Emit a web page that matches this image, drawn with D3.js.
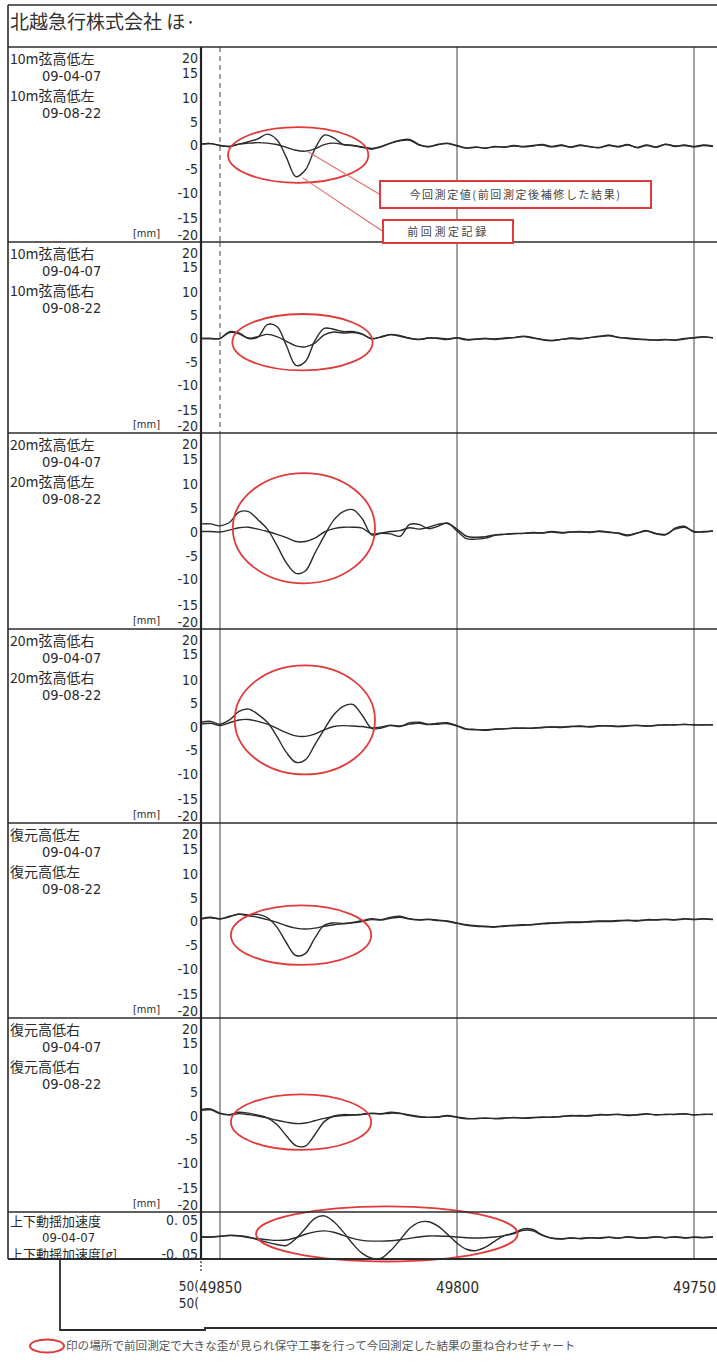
<!DOCTYPE html>
<html>
<head>
<meta charset="utf-8">
<script src="https://cdn.jsdelivr.net/npm/d3@7"></script>
<style>
  body { margin: 0; background: #fff; }
  svg { display: block; }
  .num { font-family: "DejaVu Sans Condensed", "DejaVu Sans", sans-serif; font-stretch: condensed; }
  .jp { font-family: "Noto Sans CJK JP", sans-serif; }
</style>
</head>
<body>
<svg id="chart" width="717" height="1363"></svg>
<script>
// kilometrage of the samples (m), read every 2 m
const km = [49854, 49852, 49850, 49848, 49846, 49844, 49842, 49840, 49838, 49836,
            49834, 49832, 49830, 49828, 49826, 49824, 49822, 49820, 49818, 49816,
            49814, 49812, 49810, 49808, 49806, 49804, 49802, 49800, 49798, 49796,
            49794, 49792, 49790, 49788, 49786, 49784, 49782, 49780, 49778, 49776,
            49774, 49772, 49770, 49768, 49766, 49764, 49762, 49760, 49758, 49756,
            49754, 49752, 49750, 49748, 49746];

// 09-04-07 (previous) and 09-08-22 (current) records, mm
const prev10L = [0.3, 0.4, 0.0, -0.2, 0.3, 0.8, 1.4, 2.4, 1.2, -2.5,
                 -6.6, -5.2, -0.8, 2.2, 1.6, 0.2, 0.0, -0.4, -0.8, -0.3,
                 0.5, 1.1, 1.3, 0.2, -0.3, 0.2, 0.5, 0.0, -0.5, -0.3,
                 -0.6, -0.2, -0.4, 0.0, -0.3, -0.1, 0.2, -0.2, 0.1, -0.4,
                 0.0, -0.2, -0.5, 0.1, -0.3, 0.2, -0.5, 0.0, -0.4, 0.3,
                 -0.2, 0.1, -0.3, 0.0, -0.2];
const curr10L = [0.3, 0.4, 0.0, -0.2, 0.3, 0.5, 0.6, 0.5, 0.2, -0.4,
                 -1.0, -1.2, -0.7, 0.2, 0.5, 0.2, 0.0, -0.3, -0.6, -0.2,
                 0.5, 1.0, 1.1, 0.1, -0.2, 0.2, 0.4, -0.1, -0.6, -0.4,
                 -0.5, -0.3, -0.3, -0.1, -0.2, 0.0, 0.1, -0.3, 0.0, -0.3,
                 0.1, -0.3, -0.4, 0.0, -0.2, 0.1, -0.4, 0.1, -0.3, 0.2,
                 -0.1, 0.0, -0.2, 0.1, -0.1];
const prev10R = [0.0, 0.0, 0.0, 1.5, 1.2, 0.0, 0.3, 3.0, 2.6, -1.5,
                 -5.8, -5.0, -0.5, 2.2, 2.0, 1.5, 1.5, 1.0, -0.1, 0.4,
                 0.9, 0.6, 0.1, -0.2, 0.1, 0.0, -0.2, 0.2, -0.2, -0.1,
                 0.0, -0.2, 0.0, 0.2, 0.5, 0.2, -0.3, -0.5, -0.2, 0.0,
                 -0.1, 0.2, 0.5, 0.7, 0.3, 0.0, -0.2, -0.3, -0.3, -0.2,
                 -0.4, -0.1, 0.2, 0.4, 0.1];
const curr10R = [0.0, 0.0, 0.0, 1.3, 1.0, 0.1, 0.4, 0.9, 0.4, -0.6,
                 -1.6, -1.8, -1.0, 0.8, 1.4, 1.2, 1.3, 0.9, 0.0, 0.3,
                 0.8, 0.5, 0.0, -0.2, 0.1, 0.1, -0.1, 0.1, -0.3, -0.2,
                 0.0, -0.1, 0.1, 0.2, 0.4, 0.1, -0.2, -0.4, -0.2, 0.1,
                 0.0, 0.2, 0.4, 0.6, 0.2, 0.1, -0.1, -0.2, -0.4, -0.3,
                 -0.3, 0.0, 0.1, 0.3, 0.2];
const prev20L = [1.7, 1.7, 1.3, 2.0, 4.2, 4.3, 2.6, 0.6, -2.8, -6.5,
                 -8.7, -8.2, -4.5, -0.8, 2.5, 4.3, 4.7, 2.8, -0.6, -0.3,
                 -0.4, -0.9, 1.6, 1.6, 0.7, 1.2, 1.9, 0.2, -1.4, -1.5,
                 -1.3, -0.7, -0.5, -0.4, -0.3, -0.2, -0.2, 0.0, -0.2, 0.0,
                 0.1, -0.1, 0.2, 0.0, -0.3, -0.8, -0.3, 0.2, -0.4, -0.6,
                 0.8, 1.2, 0.0, 0.1, 0.2];
const curr20L = [0.1, 0.1, 0.0, 0.4, 0.9, 1.0, 0.6, 0.1, -0.5, -1.2,
                 -2.0, -2.0, -1.3, 0.0, 0.7, 1.0, 1.0, 0.8, -0.4, -0.2,
                 0.1, 0.3, 0.9, 0.6, 1.0, 1.6, 1.8, 0.6, -0.9, -1.1,
                 -1.0, -0.6, -0.5, -0.3, -0.3, -0.1, -0.2, 0.1, -0.1, 0.0,
                 0.0, 0.0, 0.1, -0.1, -0.2, -0.6, -0.2, 0.3, -0.3, -0.5,
                 0.6, 1.0, 0.1, 0.0, 0.2];
const prev20R = [1.0, 1.2, 0.6, 1.5, 3.3, 3.8, 2.7, 1.0, -2.0, -5.4,
                 -7.5, -7.0, -3.8, -0.5, 2.6, 4.4, 4.8, 2.5, -0.3, -0.2,
                 0.3, 0.1, 0.9, 1.0, 0.6, 0.8, 0.9, 0.3, -0.4, -0.5,
                 -0.7, -0.5, -0.4, -0.3, -0.2, -0.3, -0.1, 0.0, -0.1, 0.1,
                 0.2, 0.0, 0.2, 0.3, 0.1, 0.2, 0.4, 0.2, 0.3, 0.5,
                 0.4, 0.6, 0.4, 0.5, 0.4];
const curr20R = [0.6, 0.8, 0.3, 0.9, 1.5, 1.6, 1.2, 0.6, -0.3, -1.2,
                 -1.9, -2.0, -1.5, -0.6, 0.1, 0.3, 0.2, 0.1, -0.2, 0.0,
                 0.4, 0.2, 0.6, 0.8, 0.5, 0.6, 0.7, 0.2, -0.5, -0.6,
                 -0.6, -0.4, -0.4, -0.2, -0.3, -0.2, -0.1, 0.0, 0.0, 0.1,
                 0.1, 0.1, 0.3, 0.2, 0.1, 0.3, 0.3, 0.2, 0.4, 0.4,
                 0.5, 0.5, 0.5, 0.4, 0.5];
const prevRecL = [0.5, 0.8, 0.5, 1.0, 1.6, 1.4, 1.5, 0.8, -1.2, -4.5,
                  -7.2, -6.8, -3.5, -0.8, -0.3, -0.4, -0.2, 0.2, 0.6, 0.4,
                  0.9, 1.1, 0.6, 0.4, 0.5, 0.3, 0.1, -0.3, -0.7, -0.9,
                  -1.0, -1.1, -0.9, -0.8, -0.7, -0.6, -0.4, -0.3, -0.2, -0.1,
                  -0.1, 0.0, 0.1, 0.1, 0.2, 0.3, 0.2, 0.4, 0.4, 0.5,
                  0.4, 0.6, 0.5, 0.6, 0.5];
const currRecL = [0.6, 0.9, 0.6, 1.1, 1.5, 1.2, 0.9, 0.4, -0.2, -0.9,
                  -1.4, -1.6, -1.4, -1.0, -0.7, -0.5, -0.3, 0.0, 0.4, 0.3,
                  0.7, 0.9, 0.5, 0.3, 0.4, 0.2, 0.0, -0.4, -0.8, -1.0,
                  -1.1, -1.2, -1.0, -0.9, -0.8, -0.7, -0.5, -0.4, -0.3, -0.2,
                  -0.2, -0.1, 0.0, 0.0, 0.1, 0.2, 0.1, 0.3, 0.3, 0.4,
                  0.3, 0.5, 0.4, 0.5, 0.4];
const prevRecR = [1.4, 1.5, 0.6, 0.3, 0.8, 0.6, 0.2, -0.4, -1.8, -4.2,
                  -6.3, -6.4, -4.0, -1.2, 0.0, 0.3, 0.2, 0.4, 0.6, 0.5,
                  0.8, 0.6, 0.2, -0.1, -0.3, -0.2, 0.1, -0.2, -0.5, -0.6,
                  -0.4, -0.6, -0.5, -0.3, -0.5, -0.4, -0.2, -0.3, -0.1, 0.0,
                  0.1, 0.0, 0.3, 0.2, 0.4, 0.1, 0.3, 0.5, 0.2, 0.4,
                  0.3, 0.5, 0.2, 0.4, 0.3];
const currRecR = [1.2, 1.3, 0.5, 0.2, 0.5, 0.3, 0.0, -0.4, -0.9, -1.3,
                  -1.6, -1.5, -1.0, -0.5, -0.1, 0.1, 0.2, 0.3, 0.5, 0.4,
                  0.6, 0.5, 0.1, -0.2, -0.3, -0.2, 0.0, -0.3, -0.6, -0.5,
                  -0.5, -0.5, -0.4, -0.4, -0.4, -0.3, -0.3, -0.2, -0.1, 0.1,
                  0.0, 0.1, 0.2, 0.3, 0.3, 0.2, 0.2, 0.4, 0.3, 0.3,
                  0.4, 0.4, 0.3, 0.3, 0.4];
// vertical acceleration, g
const prevAcc = [0.0, 0.0, 0.002, 0.005, 0.004, 0.0, -0.008, -0.016, -0.022, -0.025,
                 -0.005, 0.025, 0.055, 0.062, 0.045, 0.015, -0.02, -0.048, -0.062, -0.062,
                 -0.04, -0.008, 0.025, 0.043, 0.045, 0.032, 0.008, -0.018, -0.036, -0.04,
                 -0.03, -0.012, 0.004, 0.012, 0.024, 0.022, 0.006, -0.004, -0.006, -0.003,
                 -0.005, -0.002, -0.004, -0.001, -0.004, 0.0, -0.003, -0.002, 0.001, -0.002,
                 0.0, -0.003, -0.001, -0.002, 0.0];
const currAcc = [0.0, 0.0, 0.002, 0.004, 0.003, -0.002, -0.005, -0.008, -0.01, -0.009,
                 -0.002, 0.008, 0.015, 0.018, 0.014, 0.005, -0.004, -0.01, -0.012, -0.012,
                 -0.011, -0.008, -0.004, 0.0, 0.003, 0.003, 0.002, 0.0, -0.002, -0.003,
                 -0.002, 0.0, 0.004, 0.01, 0.02, 0.018, 0.005, -0.003, -0.005, -0.003,
                 -0.004, -0.002, -0.003, 0.0, -0.003, 0.001, -0.002, -0.003, 0.0, -0.002,
                 0.001, -0.002, 0.0, -0.001, 0.0];

const panelNames = ["10m弦高低左", "10m弦高低右", "20m弦高低左", "20m弦高低右", "復元高低左", "復元高低右"];
const prevSeries = [prev10L, prev10R, prev20L, prev20R, prevRecL, prevRecR];
const currSeries = [curr10L, curr10R, curr20L, curr20R, currRecL, currRecR];
const dates = ["09-04-07", "09-08-22"];
const mmTicks = [20, 15, 10, 5, 0, -5, -10, -15, -20];
const accTicks = [0.05, 0, -0.05];
const accTickLabels = ["0. 05", "0", "-0. 05"];
const kmTicks = [49850, 49800, 49750];
const kmStartLabel = "50(";
const accName = "上下動揺加速度";
const title = "北越急行株式会社 ほ·";
const caption = "印の場所で前回測定で大きな歪が見られ保守工事を行って今回測定した結果の重ね合わせチャート";
const calloutTexts = ["今回測定値(前回測定後補修した結果)", "前回測定記録"];
// red ellipses: centre (km, value) and half sizes (km, value)
const marks = [
  {km: 49833.5, v: -2.0, dk: 14.8, dv: 5.9},
  {km: 49832.6, v: -0.8, dk: 14.8, dv: 6.1},
  {km: 49832.3, v: 0.8, dk: 15.0, dv: 11.6},
  {km: 49832.1, v: 1.5, dk: 14.8, dv: 11.6},
  {km: 49832.9, v: -2.9, dk: 14.8, dv: 6.3},
  {km: 49832.9, v: -1.3, dk: 14.8, dv: 5.9},
  {km: 49814.8, v: 0.009, dk: 27.6, dv: 0.081}
];

// ---- layout
const svg = d3.select("#chart");
const W = 717, frameL = 8, plotL = 201;
const tops = [47, 242, 433, 629, 823, 1018, 1212];
const accBottom = 1259;
const red = "#e03a3a", ink = "#2b2b2b";

const x = d3.scaleLinear().domain([49850, 49750]).range([220, 694]);

const defs = svg.append("defs");

// header
svg.append("text").attr("class", "jp")
  .attr("x", 10).attr("y", 29)
  .attr("font-size", 19).attr("fill", "#333")
  .text(title);

function drawPanel(i, top, bottom, y, prev, curr, labels, ticks, tickFmt, shift, nameSize, dateSize) {
  const g = svg.append("g");
  const clipId = "pclip" + i;
  defs.append("clipPath").attr("id", clipId)
    .append("rect").attr("x", plotL).attr("y", top).attr("width", W - plotL).attr("height", bottom - top);
  defs.append("clipPath").attr("id", "lclip" + i)
    .append("rect").attr("x", frameL).attr("y", top).attr("width", plotL - frameL).attr("height", bottom - top);

  // vertical grid
  g.selectAll("line.grid").data(kmTicks).enter().append("line")
    .attr("x1", d => x(d)).attr("x2", d => x(d))
    .attr("y1", top).attr("y2", bottom)
    .attr("stroke", "#444").attr("stroke-width", 1)
    .attr("stroke-dasharray", d => (i < 2 && d === 49850) ? "5,4" : null);

  // value axis
  const ax = g.append("g").attr("class", "num")
    .attr("transform", `translate(${plotL - 1},0)`)
    .call(d3.axisLeft(y).tickValues(ticks).tickSize(0).tickPadding(2).tickFormat(tickFmt));
  ax.select(".domain").remove();
  ax.selectAll("text").attr("font-size", 14).attr("fill", ink)
    .attr("y", d => shift[d] || 0);

  // curves
  const line = d3.line()
    .x((d, j) => x(km[j]))
    .y(d => y(d))
    .curve(d3.curveCatmullRom.alpha(0.5));
  const cg = g.append("g").attr("clip-path", `url(#${clipId})`);
  [prev, curr].forEach(s => {
    cg.append("path").datum(s)
      .attr("d", line)
      .attr("fill", "none")
      .attr("stroke", ink)
      .attr("stroke-width", 1.4);
  });

  // red mark
  const m = marks[i];
  g.append("ellipse")
    .attr("cx", x(m.km)).attr("cy", y(m.v))
    .attr("rx", x(m.km - m.dk) - x(m.km))
    .attr("ry", y(m.v - m.dv) - y(m.v))
    .attr("fill", "none").attr("stroke", red).attr("stroke-width", 1.8);

  // name column
  const lg = g.append("g").attr("clip-path", `url(#lclip${i})`).attr("fill", ink);
  labels.forEach(t => {
    lg.append("text")
      .attr("class", t.indent ? "num" : "jp")
      .attr("font-size", t.indent ? dateSize : nameSize)
      .attr("x", t.indent ? 42 : 10)
      .attr("y", top + t.dy)
      .text(t.text);
  });

  // separator
  svg.append("line").attr("x1", frameL).attr("x2", W)
    .attr("y1", top).attr("y2", top)
    .attr("stroke", ink).attr("stroke-width", 1.6);
}

const mmShift = {20: 7, 15: -2, "-15": 2, "-20": -5};

panelNames.forEach((name, i) => {
  const top = tops[i], bottom = tops[i + 1];
  const y = d3.scaleLinear().domain([-20, 20]).range([bottom - 2, top + 4]);
  const labels = [
    {text: name, dy: 17},
    {text: dates[0], dy: 34, indent: true},
    {text: name, dy: 54},
    {text: dates[1], dy: 71, indent: true}
  ];
  drawPanel(i, top, bottom, y, prevSeries[i], currSeries[i], labels, mmTicks, d => d, mmShift, 14, 14.5);
  svg.append("text").attr("class", "num")
    .attr("x", 133).attr("y", bottom - 5)
    .attr("font-size", 11).attr("fill", ink)
    .text("[mm]");
});

// acceleration panel
{
  const top = tops[6], bottom = accBottom;
  const y = d3.scaleLinear().domain([-0.05, 0.05]).range([1254, 1220]);
  const labels = [
    {text: accName, dy: 14},
    {text: dates[0], dy: 30, indent: true},
    {text: accName + "[g]", dy: 47}
  ];
  drawPanel(6, top, bottom, y, prevAcc, currAcc, labels, accTicks,
            (d, k) => accTickLabels[k], {}, 13, 13);
  svg.append("line").attr("x1", frameL).attr("x2", W)
    .attr("y1", bottom).attr("y2", bottom)
    .attr("stroke", ink).attr("stroke-width", 1.8);
}

// header top line, outer left frame, plot left line
svg.append("line").attr("x1", frameL).attr("x2", W).attr("y1", 5).attr("y2", 5)
  .attr("stroke", ink).attr("stroke-width", 1.6);
svg.append("line").attr("x1", frameL).attr("x2", frameL).attr("y1", 5).attr("y2", accBottom)
  .attr("stroke", ink).attr("stroke-width", 1.6);
svg.append("line").attr("x1", plotL).attr("x2", plotL).attr("y1", tops[0]).attr("y2", accBottom)
  .attr("stroke", "#222").attr("stroke-width", 2.2);

// callouts in the first panel
{
  const y1 = d3.scaleLinear().domain([-20, 20]).range([tops[1] - 2, tops[0] + 4]);
  const boxes = [
    {x: 380, y: 181, w: 271, h: 27, from: [49831.6, -1.2]},
    {x: 383, y: 220, w: 130, h: 23, from: [49832.6, -6.8]}
  ];
  boxes.forEach((b, k) => {
    svg.append("line")
      .attr("x1", x(b.from[0])).attr("y1", y1(b.from[1]))
      .attr("x2", b.x).attr("y2", b.y + b.h / 2)
      .attr("stroke", "#e46a6a").attr("stroke-width", 1.1);
    svg.append("rect")
      .attr("x", b.x).attr("y", b.y).attr("width", b.w).attr("height", b.h)
      .attr("fill", "#fff").attr("stroke", red).attr("stroke-width", 2);
    svg.append("text").attr("class", "jp")
      .attr("x", b.x + b.w / 2).attr("y", b.y + b.h / 2 + 4)
      .attr("text-anchor", "middle")
      .attr("font-size", 11).attr("letter-spacing", k === 0 ? 1.6 : 2.6)
      .attr("fill", "#444")
      .text(calloutTexts[k]);
  });
}

// distance axis below the chart
const xa = svg.append("g").attr("class", "num")
  .attr("transform", "translate(0,1280)")
  .call(d3.axisBottom(x).tickValues(kmTicks).tickSize(0).tickPadding(2).tickFormat(d3.format("d")));
xa.select(".domain").remove();
xa.selectAll("text").attr("font-size", 15).attr("fill", ink);

svg.append("g").attr("class", "num").attr("font-size", 13.5).attr("fill", ink)
  .attr("text-anchor", "end")
  .selectAll("text").data([1291, 1308]).enter().append("text")
  .attr("x", 199).attr("y", d => d)
  .text(kmStartLabel);

svg.append("line").attr("x1", plotL).attr("x2", plotL).attr("y1", accBottom + 2).attr("y2", 1272)
  .attr("stroke", ink).attr("stroke-width", 1.2).attr("stroke-dasharray", "2,2");

// lower frame
svg.append("path")
  .attr("d", `M60,${accBottom} V1330 H205 V1328 H${W}`)
  .attr("fill", "none").attr("stroke", ink).attr("stroke-width", 1.8);

// caption
svg.append("ellipse").attr("cx", 47).attr("cy", 1346).attr("rx", 17).attr("ry", 6.5)
  .attr("fill", "none").attr("stroke", red).attr("stroke-width", 2);
svg.append("text").attr("class", "jp")
  .attr("x", 66).attr("y", 1350)
  .attr("font-size", 11.6).attr("fill", "#555")
  .text(caption);
</script>
</body>
</html>
